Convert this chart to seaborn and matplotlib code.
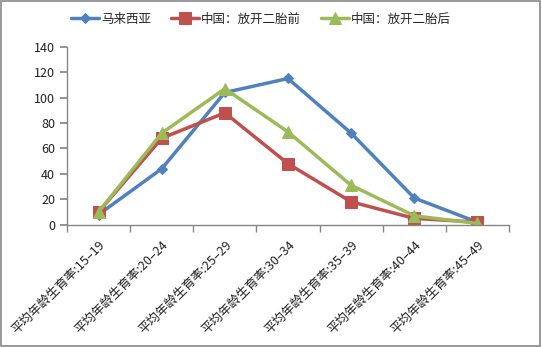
import matplotlib
matplotlib.use("Agg")
import matplotlib.pyplot as plt
import seaborn as sns
import pandas as pd
from matplotlib.patches import Rectangle

categories = ["平均年龄生育率:15–19", "平均年龄生育率:20–24", "平均年龄生育率:25–29",
              "平均年龄生育率:30–34", "平均年龄生育率:35–39", "平均年龄生育率:40–44",
              "平均年龄生育率:45–49"]
malaysia = [8, 44, 104, 115, 72, 21, 2]
china_before = [10, 68, 88, 48, 18, 5, 2]
china_after = [10, 72, 107, 73, 31, 7, 1]
series_names = ["马来西亚", "中国：放开二胎前", "中国：放开二胎后"]

sns.set_theme(style="white")
plt.rcParams['font.family'] = ['Noto Sans CJK SC', 'DejaVu Sans']

rows = []
for name, vals in zip(series_names, [malaysia, china_before, china_after]):
    for i, v in enumerate(vals):
        rows.append({"x": i, "y": v, "series": name})
df = pd.DataFrame(rows)

fig = plt.figure(figsize=(5.42, 3.47), dpi=100)
ax = fig.add_axes([0.1236, 0.3524, 0.8155, 0.513])

colors = ["#4F81BD", "#C0504D", "#9BBB59"]
markers = ["D", "s", "^"]
sizes = [5, 8, 8]
for name, c, m, ms in zip(series_names, colors, markers, sizes):
    d = df[df.series == name]
    sns.lineplot(data=d, x="x", y="y", ax=ax, color=c, marker=m, markersize=ms,
                 markeredgecolor=c, linewidth=2.5, label=name)

ax.set_xlim(-0.5, len(categories) - 0.5)
ax.set_ylim(0, 140)
ax.set_yticks(range(0, 141, 20))
ax.set_xticks(range(len(categories)))
ax.set_xticklabels(categories, rotation=45, ha="right", va="top",
                   rotation_mode="anchor", fontsize=9, color="#222222")
ax.set_xticks([i - 0.5 for i in range(len(categories) + 1)], minor=True)
ax.tick_params(axis="x", which="major", length=0, pad=10)
ax.tick_params(axis="x", which="minor", length=5, color="#868686", direction="out", bottom=True)
ax.tick_params(axis="y", length=5, color="#868686", direction="out", left=True,
               labelsize=9, labelcolor="#222222")
ax.set_xlabel("")
ax.set_ylabel("")
for s in ["top", "right"]:
    ax.spines[s].set_visible(False)
for s in ["left", "bottom"]:
    ax.spines[s].set_color("#868686")
    ax.spines[s].set_linewidth(1)

ax.legend(loc="upper center", bbox_to_anchor=(0.482, 1.0), bbox_transform=fig.transFigure,
          ncol=3, frameon=False, fontsize=9, handlelength=2.2, columnspacing=1.6,
          handletextpad=0.2, borderaxespad=0.6)

fig.patches.append(Rectangle((0.002, 0.003), 0.995, 0.994, transform=fig.transFigure,
                             fill=False, edgecolor="#888888", linewidth=1.2))

fig.savefig("out.png", dpi=100)
